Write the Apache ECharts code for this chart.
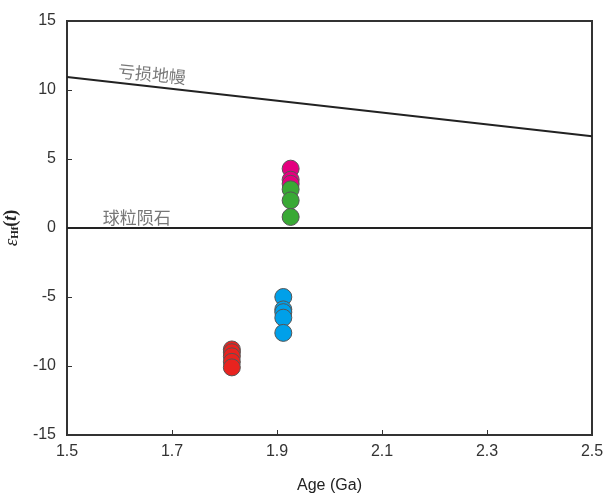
<!DOCTYPE html>
<html>
<head>
<meta charset="utf-8">
<script src="https://cdn.jsdelivr.net/npm/echarts@6/dist/echarts.min.js"></script>
<style>html,body{margin:0;padding:0;background:#fff;}#c{width:614px;height:497px;}</style>
</head>
<body>
<div id="c"></div>
<script>
// Tick settings
var xMin = 1.5, xMax = 2.5, xStep = 0.2;
var yMin = -15, yMax = 15, yStep = 5;

// Reference lines
var dmAge = [1.5, 2.5];
var dmEhf = [10.95, 6.65];
var churAge = [1.5, 2.5];
var churEhf = [0, 0];

// Samples (drawn top to bottom)
var pinkAge = [1.926, 1.926, 1.926];
var pinkEhf = [4.3, 3.5, 3.2];
var greenAge = [1.926, 1.926, 1.926];
var greenEhf = [2.8, 2.0, 0.8];
var blueAge = [1.912, 1.912, 1.912, 1.912, 1.912];
var blueEhf = [-5.0, -5.9, -6.1, -6.5, -7.6];
var redAge = [1.814, 1.814, 1.814, 1.814, 1.814];
var redEhf = [-8.8, -9.0, -9.3, -9.7, -10.1];

// Text labels
var labelNames = ['亏损地幔', '球粒陨石'];
var labelAge = [1.662, 1.633];
var labelEhf = [11.15, 0.75];
var labelRotate = [-5.6, 0];

function pairs(a, b) { return a.map(function (v, i) { return [v, b[i]]; }); }

var chart = echarts.init(document.getElementById('c'), null, {renderer: 'canvas'});
var font = '"Liberation Sans", Arial, sans-serif';
var axisColor = '#333';

function scatter(name, ages, vals, color) {
  return {
    name: name, type: 'scatter', data: pairs(ages, vals),
    symbolSize: 17, z: 5,
    itemStyle: {color: color, borderColor: '#555', borderWidth: 1, opacity: 1},
    emphasis: {disabled: true}
  };
}

var option = {
  animation: false,
  grid: {left: 67, right: 22, top: 21, bottom: 62, outerBoundsMode: 'none', containLabel: false,
    show: true, borderColor: axisColor, borderWidth: 2, backgroundColor: 'transparent'},
  xAxis: {
    type: 'value', min: xMin, max: xMax, interval: xStep,
    name: 'Age (Ga)', nameLocation: 'middle', nameGap: 43,
    nameTextStyle: {fontFamily: font, fontSize: 16, color: '#222'},
    axisLine: {show: true, onZero: false, lineStyle: {color: axisColor, width: 2}},
    axisTick: {show: true, inside: true, length: 5, lineStyle: {color: axisColor, width: 1}},
    axisLabel: {fontFamily: font, fontSize: 16, color: '#333', margin: 9,
      formatter: function (v) { return v.toFixed(1); }},
    splitLine: {show: false}
  },
  yAxis: {
    type: 'value', min: yMin, max: yMax, interval: yStep,
    name: '{e|ε}{s|Hf}{p|(}{t|t}{p|)}', nameLocation: 'middle', nameGap: 46, nameRotate: 90,
    nameTextStyle: {
      rich: {
        e: {fontFamily: '"Liberation Serif", serif', fontStyle: 'italic', fontSize: 19, color: '#222'},
        s: {fontFamily: '"Liberation Serif", serif', fontWeight: 'bold', fontSize: 11, color: '#222', verticalAlign: 'bottom', padding: [8, 0, 0, 0]},
        p: {fontFamily: '"Liberation Serif", serif', fontWeight: 'bold', fontSize: 18, color: '#222'},
        t: {fontFamily: '"Liberation Serif", serif', fontWeight: 'bold', fontStyle: 'italic', fontSize: 18, color: '#222'}
      }
    },
    axisLine: {show: true, onZero: false, lineStyle: {color: axisColor, width: 2}},
    axisTick: {show: true, inside: true, length: 5, lineStyle: {color: axisColor, width: 1}},
    axisLabel: {fontFamily: font, fontSize: 16, color: '#333', margin: 11},
    splitLine: {show: false}
  },
  series: [
    {type: 'line', data: pairs(dmAge, dmEhf), symbol: 'none', lineStyle: {color: '#222', width: 2}, z: 3, silent: true},
    {type: 'line', data: pairs(churAge, churEhf), symbol: 'none', lineStyle: {color: '#222', width: 2}, z: 3, silent: true},
    scatter('pink', pinkAge, pinkEhf, '#e4007f'),
    scatter('green', greenAge, greenEhf, '#39a935'),
    scatter('blue', blueAge, blueEhf, '#00a0e9'),
    scatter('red', redAge, redEhf, '#e8231f'),
    {
      type: 'scatter', symbolSize: 0, silent: true, z: 6,
      data: labelNames.map(function (n, i) {
        return {name: n, value: [labelAge[i], labelEhf[i]],
          label: {show: true, position: 'inside', formatter: '{b}', rotate: labelRotate[i],
            fontFamily: '"Noto Sans CJK SC", sans-serif', fontSize: 17, color: '#555'}};
      })
    }
  ]
};
chart.setOption(option);
</script>
</body>
</html>
